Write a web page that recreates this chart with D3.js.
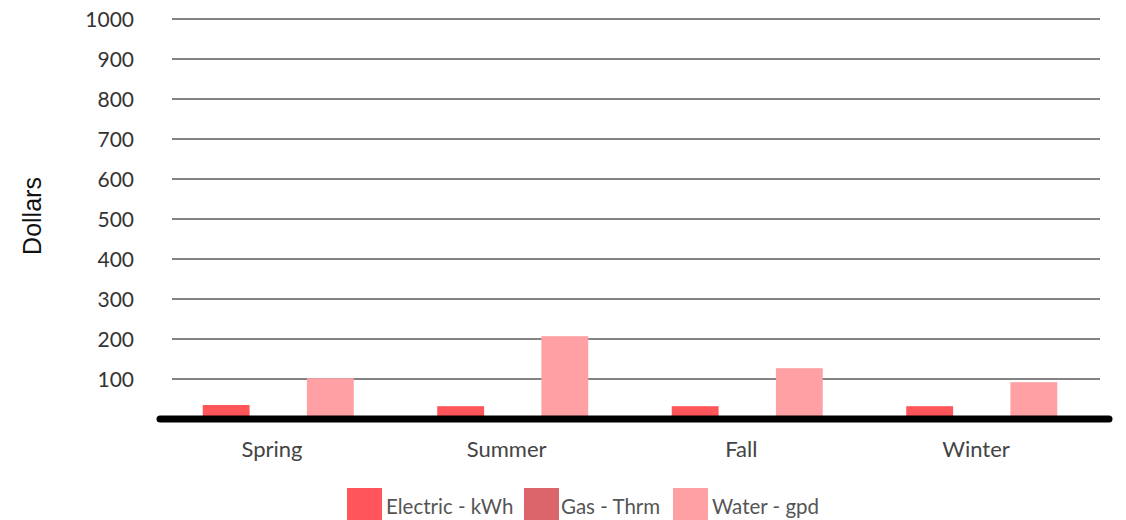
<!DOCTYPE html>
<html>
<head>
<meta charset="utf-8">
<script src="https://cdn.jsdelivr.net/npm/d3@7"></script>
<style>
  html, body { margin: 0; padding: 0; background: #fff; }
  svg { display: block; }
</style>
</head>
<body>
<svg id="chart" width="1126" height="520"></svg>
<script>
const seasons = ["Spring", "Summer", "Fall", "Winter"];
const seriesNames = ["Electric - kWh", "Gas - Thrm", "Water - gpd"];
const electric = [35, 32, 32, 32];
const gas = [0, 0, 0, 0];
const water = [102, 207, 127, 92];
const yTicks = [100, 200, 300, 400, 500, 600, 700, 800, 900, 1000];
const seriesColors = ["#ff555b", "#dc656b", "#ffa0a4"];

const seriesValues = [electric, gas, water];
const rows = seasons.map((s, i) => ({
  season: s,
  values: seriesNames.map((n, k) => ({ name: n, value: seriesValues[k][i], color: seriesColors[k] }))
}));

const svg = d3.select("#chart");
const font = "Lato, 'Open Sans', sans-serif";

const y = d3.scaleLinear().domain([0, 1000]).range([419, 19]);
const x0 = d3.scaleBand().domain(seasons).range([161, 1099]).paddingInner(0.356).paddingOuter(0.178);
const x1 = d3.scaleBand().domain(seriesNames).range([0, x0.bandwidth()]).paddingInner(0.1).paddingOuter(0);
const xLabel = d3.scalePoint().domain(seasons).range([272, 976]);

// gridlines
svg.append("g").selectAll("line").data(yTicks).join("line")
  .attr("x1", 172).attr("x2", 1100)
  .attr("y1", d => y(d)).attr("y2", d => y(d))
  .attr("stroke", "#838383").attr("stroke-width", 2.2);

// y tick labels
svg.append("g").selectAll("text").data(yTicks).join("text")
  .attr("x", 134).attr("y", d => y(d))
  .attr("dy", "0.36em")
  .attr("text-anchor", "end")
  .attr("font-family", font).attr("font-size", 21)
  .attr("fill", "#333")
  .text(d => d);

// bars
const groups = svg.append("g").selectAll("g").data(rows).join("g")
  .attr("transform", d => `translate(${x0(d.season)},0)`);
groups.selectAll("rect").data(d => d.values.filter(v => v.value > 0)).join("rect")
  .attr("x", d => x1(d.name))
  .attr("width", x1.bandwidth())
  .attr("y", d => y(d.value))
  .attr("height", d => y(0) - y(d.value))
  .attr("fill", d => d.color);

// baseline
svg.append("line")
  .attr("x1", 160).attr("x2", 1109)
  .attr("y1", y(0)).attr("y2", y(0))
  .attr("stroke", "#000").attr("stroke-width", 7).attr("stroke-linecap", "round");

// category labels
svg.append("g").selectAll("text").data(seasons).join("text")
  .attr("x", d => xLabel(d))
  .attr("y", 457)
  .attr("text-anchor", "middle")
  .attr("font-family", font).attr("font-size", 22)
  .attr("fill", "#444")
  .text(d => d);

// y title
svg.append("text")
  .attr("transform", "translate(41,216) rotate(-90)")
  .attr("text-anchor", "middle")
  .attr("font-family", "'Liberation Sans', Arial, sans-serif").attr("font-size", 25)
  .attr("fill", "#111")
  .text("Dollars");

// legend
const legendX = [347, 524, 673];
const leg = svg.append("g").selectAll("g").data(seriesNames).join("g")
  .attr("transform", (d, i) => `translate(${legendX[i]},488)`);
leg.append("rect").attr("width", 35).attr("height", 34)
  .attr("fill", (d, i) => seriesColors[i]);
leg.append("text").attr("x", (d, i) => i === 1 ? 37 : 39).attr("y", 26)
  .attr("font-family", font).attr("font-size", 20.5)
  .attr("fill", "#555")
  .text(d => d);
</script>
</body>
</html>
